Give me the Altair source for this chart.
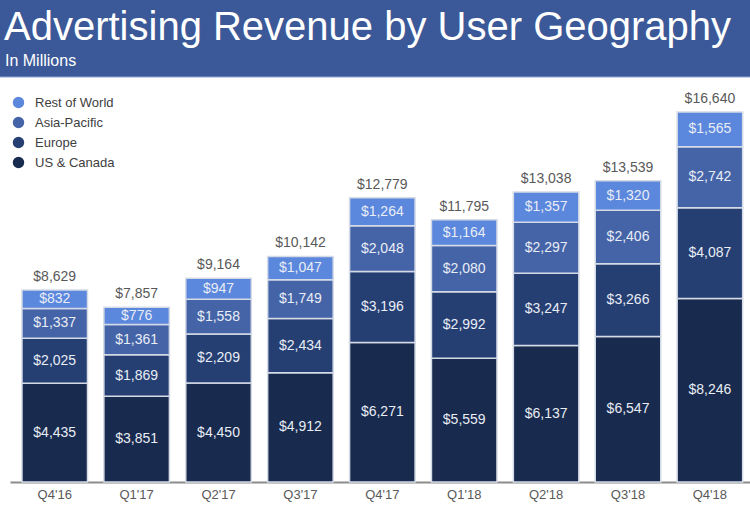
import altair as alt
import pandas as pd

quarters = ["Q4'16", "Q1'17", "Q2'17", "Q3'17", "Q4'17", "Q1'18", "Q2'18", "Q3'18", "Q4'18"]
us_canada = [4435, 3851, 4450, 4912, 6271, 5559, 6137, 6547, 8246]
europe = [2025, 1869, 2209, 2434, 3196, 2992, 3247, 3266, 4087]
asia_pacific = [1337, 1361, 1558, 1749, 2048, 2080, 2297, 2406, 2742]
rest_of_world = [832, 776, 947, 1047, 1264, 1164, 1357, 1320, 1565]
totals = [8629, 7857, 9164, 10142, 12779, 11795, 13038, 13539, 16640]

regions = ["US & Canada", "Europe", "Asia-Pacific", "Rest of World"]
colors = ["#182a4d", "#263f73", "#4564a8", "#5b87dd"]
series = [us_canada, europe, asia_pacific, rest_of_world]

rows = []
for r_i, (name, vals) in enumerate(zip(regions, series)):
    for q, v in zip(quarters, vals):
        rows.append({"quarter": q, "region": name, "value": v, "order": r_i,
                     "label": "${:,}".format(v)})
df = pd.DataFrame(rows)
tot_df = pd.DataFrame({"quarter": quarters, "total": totals,
                       "label": ["${:,}".format(t) for t in totals]})

FONT = "Liberation Sans"

xscale = alt.Scale(domain=quarters, paddingInner=0.2, paddingOuter=0.118, align=0.62)
yscale = alt.Scale(domain=[0, 21670], nice=False, zero=True)

legend_order = ["Rest of World", "Asia-Pacific", "Europe", "US & Canada"]

bars = alt.Chart(df).mark_bar(stroke="#d5dbe6", strokeWidth=1.5).encode(
    x=alt.X("quarter:N", scale=xscale, sort=quarters,
            axis=alt.Axis(title=None, labelAngle=0, ticks=False, domainColor="#8c8c8c",
                          domainWidth=2, labelColor="#595959", labelFont=FONT,
                          labelFontSize=13, labelPadding=6)),
    y=alt.Y("value:Q", stack="zero", scale=yscale, axis=None),
    color=alt.Color("region:N", scale=alt.Scale(domain=regions, range=colors),
                    legend=alt.Legend(title=None, orient="none", legendX=2, legendY=96,
                                      values=legend_order, symbolType="circle",
                                      symbolSize=130, symbolStrokeWidth=0,
                                      labelFont=FONT, labelFontSize=13,
                                      labelColor="#404040", rowPadding=6,
                                      symbolOffset=0, labelOffset=10)),
    order=alt.Order("order:Q", sort="ascending"),
)

seg_text = alt.Chart(df).transform_stack(
    stack="value", groupby=["quarter"], as_=["y0", "y1"], sort=[alt.SortField("order", order="ascending")]
).transform_calculate(mid="(datum.y0 + datum.y1) / 2").mark_text(
    font=FONT, fontSize=14, color="#e9edf5", baseline="middle"
).encode(
    x=alt.X("quarter:N", scale=xscale, sort=quarters),
    y=alt.Y("mid:Q", scale=yscale),
    text="label:N",
)

tot_text = alt.Chart(tot_df).mark_text(
    font=FONT, fontSize=14, color="#595959", baseline="bottom", dy=-6
).encode(
    x=alt.X("quarter:N", scale=xscale, sort=quarters),
    y=alt.Y("total:Q", scale=yscale),
    text="label:N",
)

header = alt.Chart(pd.DataFrame({"t": [0]})).mark_rect(color="#3b5998").encode(
    x=alt.value(-10), x2=alt.value(750), y=alt.value(0), y2=alt.value(77)
)
header_line = alt.Chart(pd.DataFrame({"t": [0]})).mark_rule(color="#8fa6d4", strokeWidth=1).encode(
    x=alt.value(-10), x2=alt.value(750), y=alt.value(77)
)
title_df = pd.DataFrame({"text": ["Advertising Revenue by User Geography"]})
title = alt.Chart(title_df).mark_text(
    font=FONT, fontSize=40, color="white", align="left", baseline="alphabetic"
).encode(x=alt.value(-6), y=alt.value(40), text="text:N")
sub_df = pd.DataFrame({"text": ["In Millions"]})
subtitle = alt.Chart(sub_df).mark_text(
    font=FONT, fontSize=16, color="white", align="left", baseline="alphabetic"
).encode(x=alt.value(-5), y=alt.value(66), text="text:N")

chart = alt.layer(header, header_line, title, subtitle, bars, seg_text, tot_text).properties(
    width=740, height=482,
    padding={"left": 10, "right": 0, "top": 0, "bottom": 26},
    autosize=alt.AutoSizeParams(type="none"),
    background="white",
).configure_view(stroke=None)

chart.save("out.html", embed_options={"renderer": "svg", "actions": False})
